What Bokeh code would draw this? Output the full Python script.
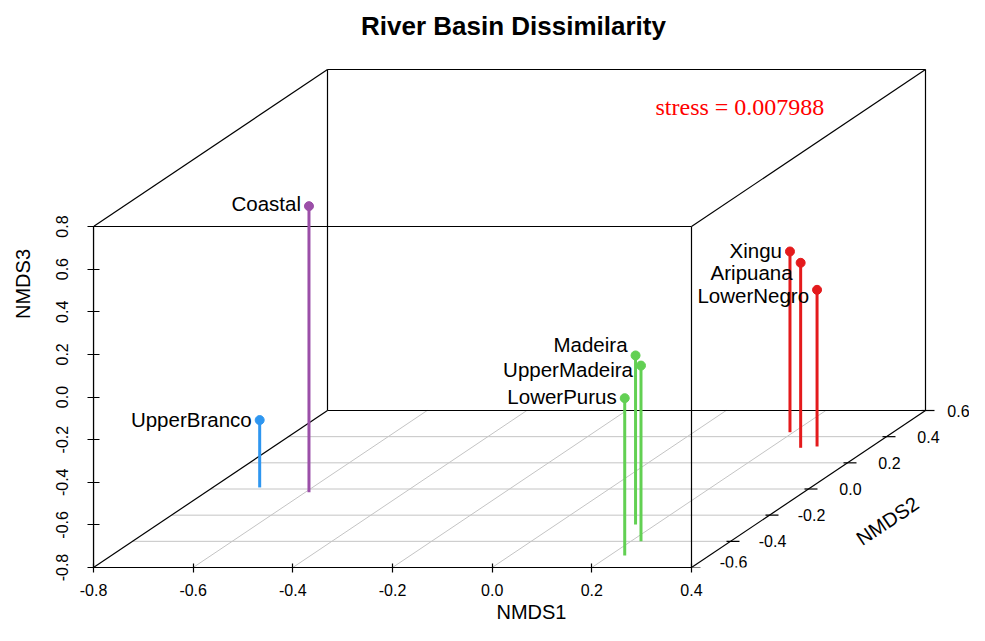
import math
from bokeh.plotting import figure
from bokeh.models import (ColumnDataSource, FixedTicker, PrintfTickFormatter,
                          Range1d, LabelSet)
from bokeh.core.properties import value
from bokeh.embed import file_html
from bokeh.resources import INLINE

# ---------------- data ----------------
sites = ["UpperBranco", "Coastal", "Madeira", "UpperMadeira", "LowerPurus",
         "Xingu", "Aripuana", "LowerNegro"]
nmds1 = [-0.706, -0.593, 0.159, 0.220, 0.230, 0.193, 0.261, 0.290]
nmds2 = [0.012, -0.024, -0.271, -0.399, -0.508, 0.434, 0.315, 0.325]
nmds3 = [-0.484, 0.542, -0.007, 0.024, -0.062, 0.048, 0.068, -0.065]
site_colors = ["#2E96F0", "#9B4FA8", "#62D053", "#62D053", "#62D053",
               "#E41A1C", "#E41A1C", "#E41A1C"]
label_dy_px = [-1, -3, -11, 4, -2, -1, 10, 6]   # label nudges (px, down positive)

xlim = [-0.8, 0.4]
ylim = [-0.6, 0.6]
zlim = [-0.8, 0.8]
x_ticks = [-0.8, -0.6, -0.4, -0.2, 0.0, 0.2, 0.4]
y_ticks = [-0.6, -0.4, -0.2, 0.0, 0.2, 0.4, 0.6]
z_ticks = [-0.8, -0.6, -0.4, -0.2, 0.0, 0.2, 0.4, 0.6, 0.8]
y_tick_labels = ["-0.6", "-0.4", "-0.2", "0.0", "0.2", "0.4", "0.6"]
# pixel nudges of the NMDS2 tick labels (kept inside the canvas)
y_label_dx_px = [42, 42, 42, 42, 42, 42, 33]
y_label_dy_px = [-6, 0, 0, 0, 0, 0, 0]
stress_value = 0.007988

# ---------------- projection (scatterplot3d-like) ----------------
PX_X = 498.33            # pixels per NMDS1 unit
PX_Z = 213.125           # pixels per NMDS3 unit
DEPTH_PX_X = 195.0       # horizontal pixels per NMDS2 unit
DEPTH_PX_Z = 130.83      # vertical pixels per NMDS2 unit
KX = DEPTH_PX_X / PX_X
KZ = DEPTH_PX_Z / PX_Z


def proj(x, y, z):
    d = y - ylim[0]
    return x + d * KX, z + d * KZ


W, H = 969, 625
LEFT, BOTTOM_Y = 93, 567
FRAME_W = W - LEFT
FRAME_H = BOTTOM_Y
x_end = xlim[0] + FRAME_W / PX_X
z_end = zlim[0] + FRAME_H / PX_Z

p = figure(width=W, height=H, output_backend="svg", toolbar_location=None,
           x_range=Range1d(xlim[0], x_end), y_range=Range1d(zlim[0], z_end),
           min_border_left=LEFT, min_border_right=0, min_border_top=0,
           min_border_bottom=H - BOTTOM_Y)
p.outline_line_color = None
p.xgrid.visible = False
p.ygrid.visible = False
p.background_fill_color = "white"

FONT = value("Liberation Sans")

# ---------------- floor grid ----------------
gx0, gy0, gx1, gy1 = [], [], [], []
for t in y_ticks[1:-1]:
    a = proj(xlim[0], t, zlim[0]); b = proj(xlim[1], t, zlim[0])
    gx0.append(a[0]); gy0.append(a[1]); gx1.append(b[0]); gy1.append(b[1])
for t in x_ticks[1:-1]:
    a = proj(t, ylim[0], zlim[0]); b = proj(t, ylim[1], zlim[0])
    gx0.append(a[0]); gy0.append(a[1]); gx1.append(b[0]); gy1.append(b[1])
p.segment(gx0, gy0, gx1, gy1, line_color="#C4C4C4", line_width=1)

# ---------------- box ----------------
bx0, by0, bx1, by1 = [], [], [], []
edges = []
for yy in ylim:
    for zz in zlim:
        edges.append(((xlim[0], yy, zz), (xlim[1], yy, zz)))
for xx in xlim:
    for zz in zlim:
        edges.append(((xx, ylim[0], zz), (xx, ylim[1], zz)))
for xx in xlim:
    for yy in ylim:
        edges.append(((xx, yy, zlim[0]), (xx, yy, zlim[1])))
for a3, b3 in edges:
    a = proj(*a3); b = proj(*b3)
    bx0.append(a[0]); by0.append(a[1]); bx1.append(b[0]); by1.append(b[1])
p.segment(bx0, by0, bx1, by1, line_color="black", line_width=1.2)

# ---------------- NMDS2 axis (ticks + labels) ----------------
tx0, tx1, ty, tlx = [], [], [], []
for t in y_ticks:
    ax, az = proj(xlim[1], t, zlim[0])
    tx0.append(ax - 4 / PX_X); tx1.append(ax + 9 / PX_X); ty.append(az)
    tlx.append(ax)
p.segment(tx0, ty, tx1, ty, line_color="black", line_width=1.2)
ysrc = ColumnDataSource(dict(x=tlx, y=ty, t=y_tick_labels,
                             dx=y_label_dx_px, dy=y_label_dy_px))
p.text(x="x", y="y", text="t", source=ysrc, x_offset="dx", y_offset="dy",
       text_align="center", text_baseline="middle",
       text_font=FONT, text_font_size="16px", text_color="black")
mx, mz = proj(xlim[1], (ylim[0] + ylim[1]) / 2, zlim[0])
p.text(x=[mx], y=[mz], text=["NMDS2"], x_offset=79, y_offset=32,
       angle=math.atan2(DEPTH_PX_Z, DEPTH_PX_X), text_align="center",
       text_baseline="middle", text_font=FONT, text_font_size="20px",
       text_color="black")

# ---------------- stems + points ----------------
px_, pz_, fz_ = [], [], []
for a, b, c in zip(nmds1, nmds2, nmds3):
    X, Z = proj(a, b, c)
    _, F = proj(a, b, zlim[0])
    px_.append(X); pz_.append(Z); fz_.append(F)
src = ColumnDataSource(dict(x=px_, z=pz_, f=fz_, col=site_colors, name=sites,
                            dy=label_dy_px))
p.segment(x0="x", y0="f", x1="x", y1="z", line_color="col", line_width=3,
          source=src)
p.scatter(x="x", y="z", size=9, fill_color="col", line_color="col", source=src)
p.text(x="x", y="z", text="name", x_offset=-8, y_offset="dy", text_align="right",
       text_baseline="middle", text_font=FONT, text_font_size="20.5px",
       text_color="black", source=src)

# ---------------- title and stress annotation ----------------
def page_to_data(px, py):
    return xlim[0] + (px - LEFT) / PX_X, zlim[0] + (BOTTOM_Y - py) / PX_Z

tx, tz = page_to_data(513, 25)
p.text(x=[tx], y=[tz], text=["River Basin Dissimilarity"], text_align="center",
       text_baseline="middle", text_font=FONT, text_font_size="26px",
       text_font_style="bold", text_color="black")
sx, sz = page_to_data(655, 106)
p.text(x=[sx], y=[sz], text=["stress = %.6f" % stress_value], text_align="left",
       text_baseline="middle", text_font=value("Liberation Serif"),
       text_font_size="24px", text_color="red")

# ---------------- axes ----------------
fmt = PrintfTickFormatter(format="%.1f")
xa = p.xaxis[0]
xa.ticker = FixedTicker(ticks=x_ticks)
xa.formatter = fmt
xa.bounds = (xlim[0], xlim[1])
xa.axis_label = "NMDS1"
xa.major_tick_in = 4
xa.major_tick_out = 5
xa.minor_tick_line_color = None
xa.major_label_standoff = 11
xa.axis_label_standoff = 2

ya = p.yaxis[0]
ya.ticker = FixedTicker(ticks=z_ticks)
ya.formatter = fmt
ya.bounds = (zlim[0], zlim[1])
ya.axis_label = "NMDS3"
ya.major_tick_in = 6
ya.major_tick_out = 6
ya.minor_tick_line_color = None
ya.major_label_orientation = "parallel"
ya.major_label_standoff = 20
ya.axis_label_standoff = 19

for ax in (xa, ya):
    ax.axis_line_color = "black"
    ax.axis_line_width = 1.2
    ax.major_tick_line_color = "black"
    ax.major_tick_line_width = 1.2
    ax.major_label_text_font = "Liberation Sans"
    ax.major_label_text_font_size = "16px"
    ax.major_label_text_color = "black"
    ax.axis_label_text_font = "Liberation Sans"
    ax.axis_label_text_font_size = "20px"
    ax.axis_label_text_font_style = "normal"
    ax.axis_label_text_color = "black"

open("out.html", "w").write(file_html(p, INLINE))
